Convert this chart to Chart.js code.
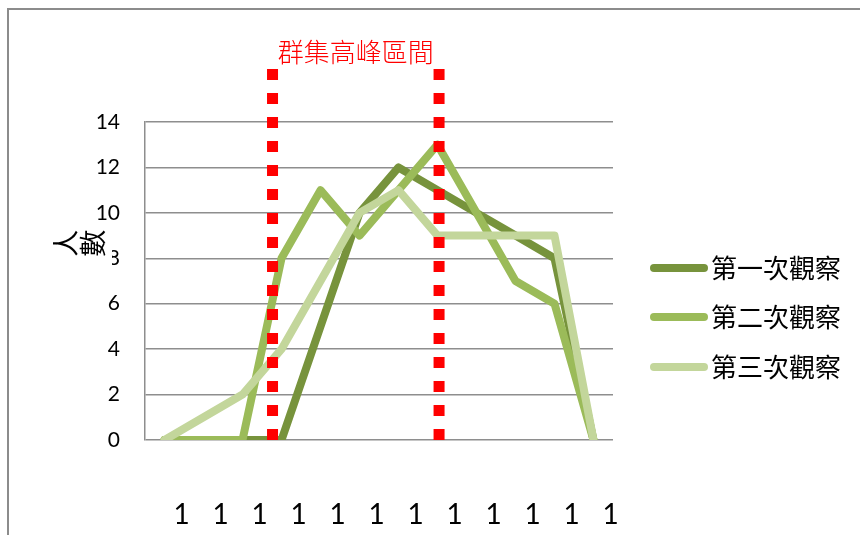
<!DOCTYPE html>
<html>
<head>
<meta charset="utf-8">
<script src="https://cdn.jsdelivr.net/npm/chart.js@4.4.1/dist/chart.umd.min.js"></script>
<style>
  html, body { margin: 0; padding: 0; background: #fff; }
  .graph-area { position: relative; width: 860px; height: 535px; overflow: hidden; }
  .frame { position: absolute; left: 7px; top: 8px; width: 900px; height: 600px;
           border-left: 2px solid #8c8c8c; border-top: 2px solid #8c8c8c; }
  #myChart { position: absolute; left: 0; top: 0; }
  #customLegend { position: absolute; left: 650px; top: 243px; }
  #customLegend ul { list-style: none; margin: 0; padding: 0; }
  #customLegend li { display: flex; align-items: center; height: 49.5px; }
  #customLegend li span { display: inline-block; width: 58px; height: 8px; border-radius: 4px; }
  #customLegend li p { margin: 0 0 3px 3px; font: 400 26px 'Noto Sans CJK TC', sans-serif; color: #000; }
</style>
</head>
<body>
<div class="graph-area">
  <div class="frame"></div>
  <canvas id="myChart" width="860" height="535"></canvas>
</div>
<script>
  // Setup Block
  const x_labels = ['1', '1', '1', '1', '1', '1', '1', '1', '1', '1', '1', '1'];
  const obs1 = [0, 0, 0, 0, 5, 10, 12, 11, 10, 9, 8, 0];
  const obs2 = [0, 0, 0, 8, 11, 9, 11, 13, 10, 7, 6, 0];
  const obs3 = [0, 1, 2, 4, 7, 10, 11, 9, 9, 9, 9, 0];
  const y_ticks = [0, 2, 4, 6, 8, 10, 12, 14];
  const series_names = ['第一次觀察', '第二次觀察', '第三次觀察'];
  const chart_title = '群集高峰區間';
  const y_title = '人數';
  // 高峰區間 (category index, fractional)
  const peak_start = 2.77;
  const peak_end = 7.04;

  const colors = ['#77933C', '#9BBB59', '#C3D69B'];

  function lineSet(label, values, color, order) {
    return {
      label: label,
      data: values,
      borderColor: color,
      backgroundColor: color,
      borderWidth: 8,
      borderJoinStyle: 'round',
      borderCapStyle: 'round',
      pointRadius: 0,
      pointHoverRadius: 0,
      tension: 0,
      fill: false,
      order: order, // 後のシリーズを上に描く
    };
  }

  const data = {
    labels: x_labels,
    datasets: [
      lineSet(series_names[0], obs1, colors[0], 3),
      lineSet(series_names[1], obs2, colors[1], 2),
      lineSet(series_names[2], obs3, colors[2], 1),
    ]
  };

  // Plugin - peak range (red dotted lines + title) and y title
  const peakRange = {
    id: 'peakRange',
    afterDatasetsDraw: function (chart) {
      const { ctx, chartArea, scales: { x } } = chart;
      const top = chartArea.top - 53;
      const bottom = chartArea.bottom;
      const xs = [x.getPixelForValue(peak_start), x.getPixelForValue(peak_end)];

      ctx.save();
      ctx.strokeStyle = '#FF0000';
      ctx.lineWidth = 11;
      ctx.lineCap = 'butt';
      ctx.setLineDash([11, 13]);
      xs.forEach((px) => {
        ctx.beginPath();
        ctx.moveTo(px, top);
        ctx.lineTo(px, bottom);
        ctx.stroke();
      });
      ctx.setLineDash([]);

      ctx.fillStyle = '#FF0000';
      ctx.font = "300 26px 'Noto Sans CJK TC'";
      ctx.textAlign = 'center';
      ctx.textBaseline = 'middle';
      ctx.fillText(chart_title, (xs[0] + xs[1]) / 2, top - 17);
      ctx.restore();
    },
    afterDraw: function (chart) {
      const { ctx, scales: { y } } = chart;
      const cy = y.getPixelForValue(8) - 15;
      ctx.save();
      ctx.fillStyle = '#fff';
      ctx.fillRect(52, cy - 14, 60, 40);
      ctx.fillStyle = '#000';
      ctx.font = "400 27px 'Noto Sans CJK TC'";
      ctx.textAlign = 'center';
      ctx.textBaseline = 'middle';
      const centers = [66, 93];
      y_title.split('').forEach((ch, i) => {
        ctx.save();
        ctx.translate(centers[i], cy);
        ctx.rotate(-Math.PI / 2);
        ctx.fillText(ch, 0, 0);
        ctx.restore();
      });
      ctx.restore();
    }
  };

  // Config block
  const config = {
    type: 'line',
    data,
    options: {
      responsive: false,
      animation: false,
      layout: {
        padding: { top: 122, right: 247, bottom: 0, left: 0 }
      },
      scales: {
        x: {
          offset: true,
          grid: { display: false, drawTicks: false },
          border: { display: false },
          ticks: {
            autoSkip: false,
            maxRotation: 0,
            labelOffset: 17,
            padding: 58,
            color: '#000',
            font: { family: 'Lato', size: 28 },
          },
          afterFit: (scale) => { scale.height = 95; },
        },
        y: {
          min: 0,
          max: 14,
          afterBuildTicks: (scale) => { scale.ticks = y_ticks.map(v => ({ value: v })); },
          grid: { color: '#8e8e8e', lineWidth: 1.5, drawTicks: false },
          border: { display: true, color: '#8e8e8e', width: 1.5 },
          ticks: {
            padding: 25,
            color: '#000',
            font: { family: 'Lato', size: 21 },
          },
          afterFit: (scale) => { scale.width = 145; },
        },
      },
      plugins: {
        legend: { display: false },
        tooltip: { enabled: false },
      }
    },
    plugins: [peakRange]
  };

  // render block
  const mychart = new Chart(document.getElementById('myChart'), config);

  // CustomしたlegendをCanvasの右に作る
  function generateLegend() {
    const chartBox = document.querySelector('.graph-area');
    const div = document.createElement('DIV');
    div.setAttribute('id', 'customLegend');
    const ul = document.createElement('UL');
    mychart.data.datasets.forEach((dataset) => {
      const li = document.createElement('LI');
      const spanBox = document.createElement('SPAN');
      spanBox.style.backgroundColor = dataset.borderColor;
      const p = document.createElement('P');
      p.appendChild(document.createTextNode(dataset.label));
      li.appendChild(spanBox);
      li.appendChild(p);
      ul.appendChild(li);
    });
    div.appendChild(ul);
    chartBox.appendChild(div);
  }

  generateLegend();
</script>
</body>
</html>
